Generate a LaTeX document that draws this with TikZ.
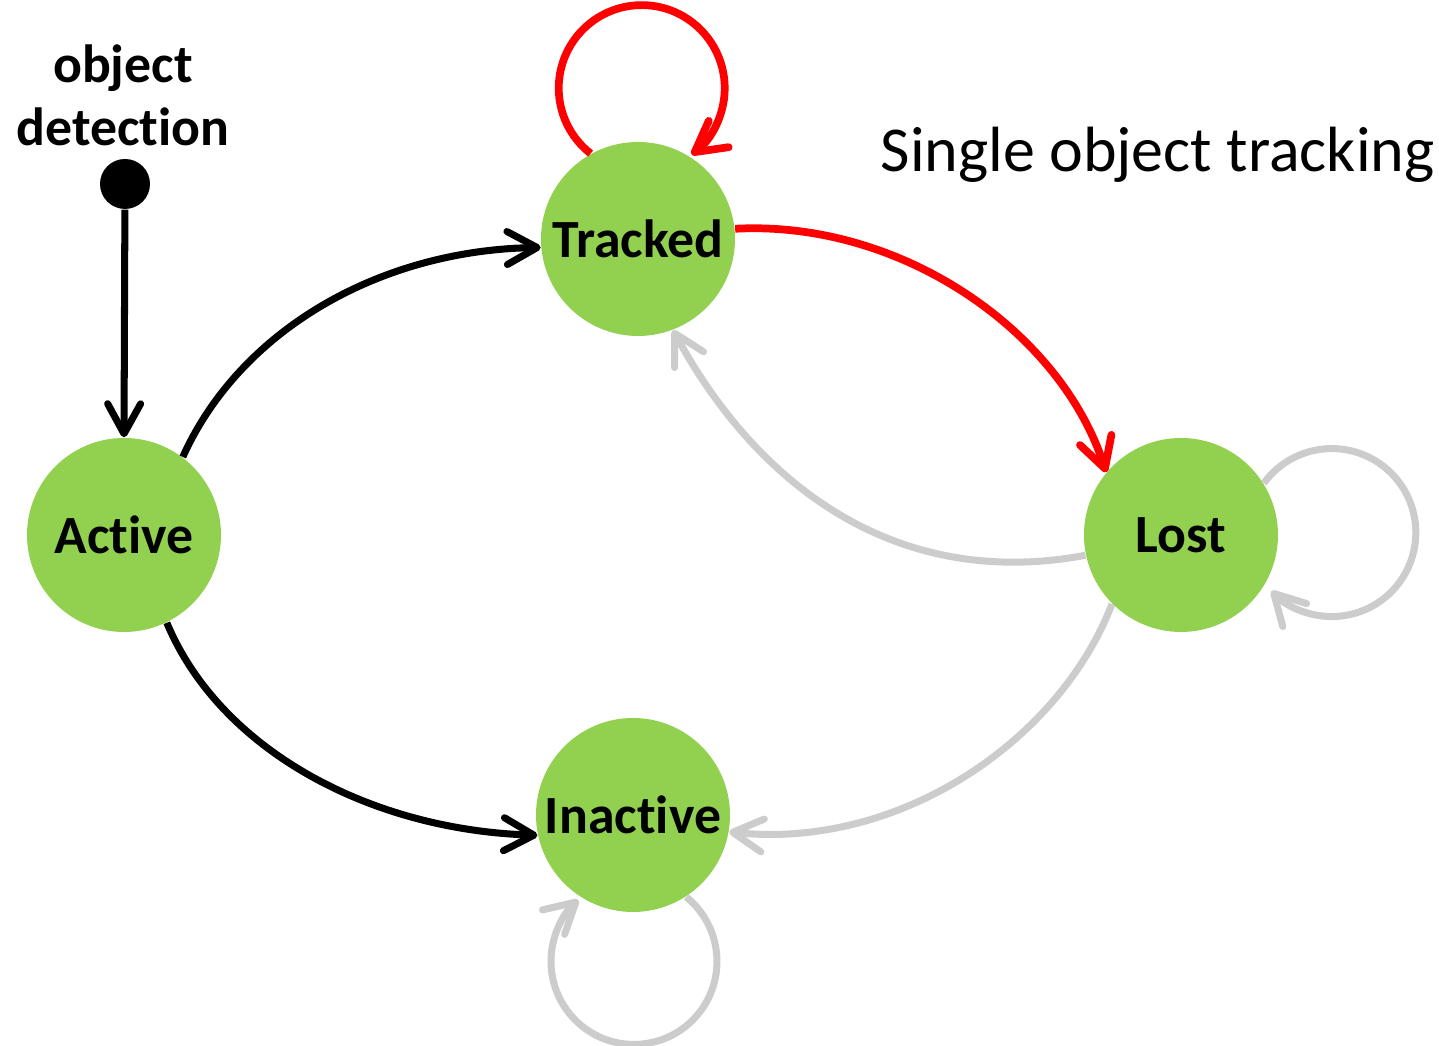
\documentclass[tikz,border=0pt]{standalone}
\usepackage{fontspec}
\setmainfont{Carlito}[Ligatures=NoCommon]
\usetikzlibrary{arrows.meta}
\definecolor{stategreen}{RGB}{146,208,80}
\definecolor{softgray}{RGB}{204,204,204}
\definecolor{hotred}{RGB}{255,0,0}
\tikzset{
  state/.style={circle, fill=stategreen, minimum size=1.94cm, inner sep=0pt,
    font=\fontsize{15.3}{18}\selectfont\bfseries},
  tip/.style={-{Straight Barb[length=3mm,width=3.3mm,round]}},
  blackedge/.style={tip, line width=2pt, black},
  rededge/.style={tip, line width=2.2pt, hotred},
  grayedge/.style={tip, line width=2pt, softgray},
}
\begin{document}
\begin{tikzpicture}
\useasboundingbox (0,0) rectangle (14.39,10.46);

% states
\node[state] (T) at (6.38,8.07) {Tracked};
\node[state] (A) at (1.24,5.11) {Active};
\node[state] (L) at (11.81,5.11) {Lost};
\node[state] (I) at (6.33,2.31) {Inactive};

% initial pseudo-state
\node[circle, fill=black, minimum size=0.5cm, inner sep=0pt] (D) at (1.25,8.62) {};
\node[align=center, font=\fontsize{15.3}{18}\selectfont\bfseries] (det) at (1.23,9.51)
  {object\\detection};
\node[anchor=base west, inner sep=0pt, font=\fontsize{18.2}{22}\selectfont] (title) at (8.80,8.74)
  {Single object tracking};

% transitions
\draw[blackedge] (D) -- (A.north);
\draw[blackedge] (A.53) .. controls (2.40,7.16) and (3.80,7.96) .. (T.185);
\draw[blackedge] (A.-64) .. controls (2.20,2.96) and (3.70,2.16) .. (I.192);
\draw[rededge] (T.6) .. controls (9.00,8.26) and (10.60,7.16) .. (L.140);
\draw[grayedge] (L.192) .. controls (9.00,4.56) and (7.60,5.56) .. (T.-69);
\draw[grayedge] (L.225) .. controls (10.60,3.06) and (9.00,1.96) .. (I.-10);

% self loops
\draw[rededge] (T.119) arc[start angle=232, end angle=-53, radius=0.83];
\draw[grayedge] (L.32) arc[start angle=144, end angle=-136, radius=0.84];
\draw[grayedge] (I.-57) arc[start angle=51, end angle=-228, radius=0.83];
\end{tikzpicture}
\end{document}
